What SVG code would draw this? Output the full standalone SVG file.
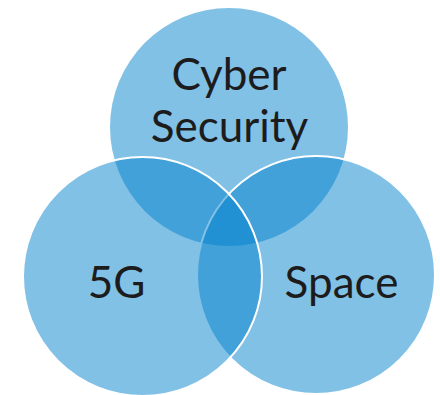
<svg xmlns="http://www.w3.org/2000/svg" width="440" height="395" viewBox="0 0 440 395">
<style>
.c{fill:#0080CC;fill-opacity:0.49}
.s{stroke:#FFFFFF;stroke-width:2}
.t{font-family:Lato,"Liberation Sans",sans-serif;font-size:44px;fill:#1C1C1C;text-anchor:middle}
</style>
<rect width="440" height="395" fill="#FFFFFF"/>
<g id="cyber-security">
<circle class="c" cx="229" cy="127" r="119"/>
</g>
<g id="space">
<circle class="c s" cx="316" cy="275" r="119"/>
</g>
<g id="fiveg">
<circle class="c s" cx="142.5" cy="276.5" r="119.5"/>
</g>
<g id="labels">
<text class="t" x="229" y="90">Cyber</text>
<text class="t" x="229.5" y="142">Security</text>
<text class="t" x="116.5" y="298">5G</text>
<text class="t" x="341.5" y="298">Space</text>
</g>
<g id="connectors"></g>
</svg>
